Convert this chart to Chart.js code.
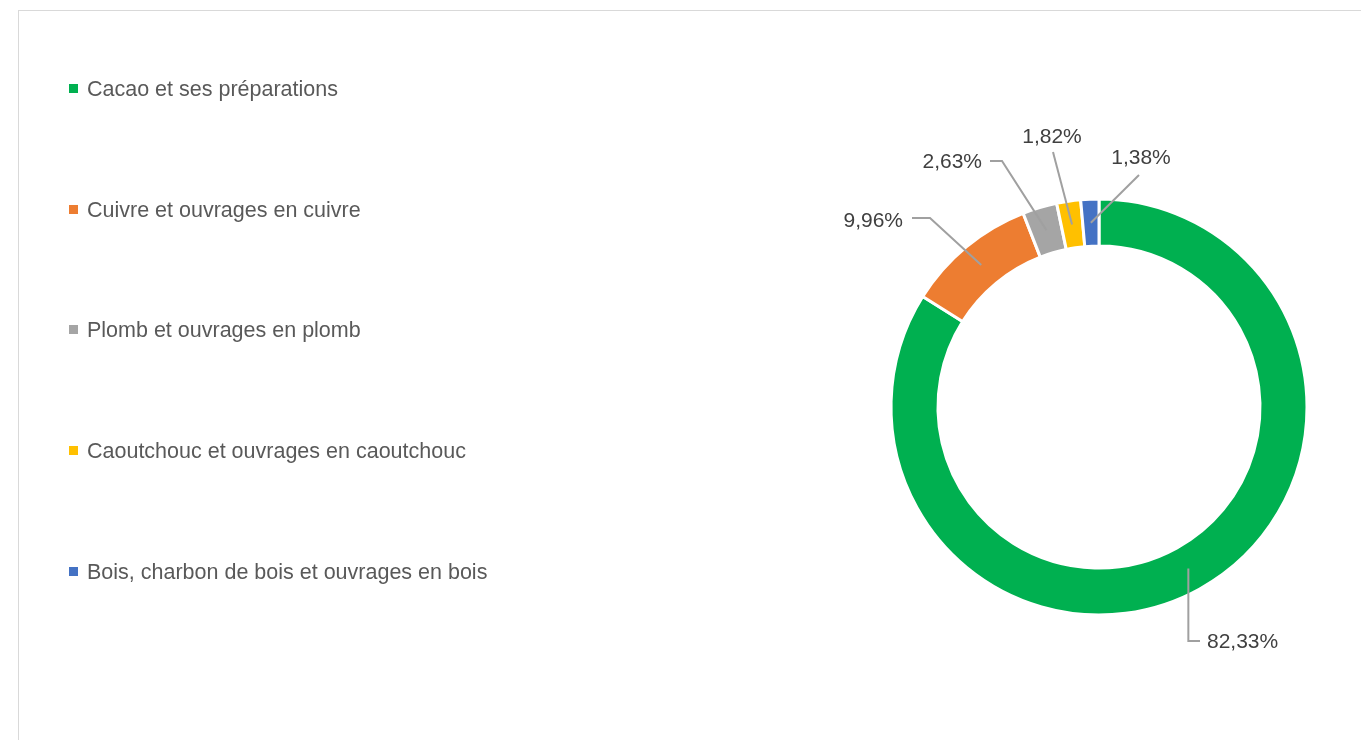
<!DOCTYPE html>
<html lang="fr">
<head>
<meta charset="utf-8">
<script src="https://cdn.jsdelivr.net/npm/chart.js@4/dist/chart.umd.min.js"></script>
<style>
    body { margin: 0; background: #fff; font-family: "Liberation Sans", Arial, sans-serif; }
    #frame { position: absolute; left: 18px; top: 10px; width: 1360px; height: 740px; border: 1px solid #d9d9d9; box-sizing: border-box; }
    #wrap { position: absolute; left: 0; top: 0; width: 1361px; height: 740px; }
    #legend { position: absolute; left: 69px; top: 0; }
    .item { position: absolute; left: 0; white-space: nowrap; font-size: 21.5px; color: #595959; line-height: 24px; }
    .item span.box { display: inline-block; width: 9px; height: 9px; margin-right: 9px; vertical-align: 3px; }
</style>
</head>
<body>
<div id="frame"></div>
<div id="wrap"><canvas id="donut" width="1361" height="740"></canvas></div>
<div id="legend"></div>
<script>
document.addEventListener('DOMContentLoaded', function() {

    const categories = [
        'Cacao et ses préparations',
        'Cuivre et ouvrages en cuivre',
        'Plomb et ouvrages en plomb',
        'Caoutchouc et ouvrages en caoutchouc',
        'Bois, charbon de bois et ouvrages en bois'
    ];
    const shares = [82.33, 9.96, 2.63, 1.82, 1.38];
    const colors = ['#00B050', '#ED7D31', '#A5A5A5', '#FFC000', '#4472C4'];

    // where Excel put each label and the bend of its leader line
    const labelSpots = [
        { tx: 1207, ty: 642, align: 'left', path: [[1200, 641], ['x', 641]] },
        { tx: 903, ty: 221, align: 'right', path: [[912, 218], [930, 218]] },
        { tx: 982, ty: 162, align: 'right', path: [[990, 161], [1002, 161]] },
        { tx: 1052, ty: 137, align: 'center', path: [[1053, 152]] },
        { tx: 1141, ty: 158, align: 'center', path: [[1139, 175]] }
    ];

    function buildLegend() {
        const legend = document.getElementById('legend');
        categories.forEach((name, i) => {
            const div = document.createElement('div');
            div.className = 'item';
            div.style.top = (77 + i * 120.7) + 'px';
            div.innerHTML = '<span class="box" style="background:' + colors[i] + '"></span>' + name;
            legend.appendChild(div);
        });
    }

    const leaderLabels = {
        id: 'leaderLabels',
        afterDatasetsDraw(chart) {
            const ctx = chart.ctx;
            const meta = chart.getDatasetMeta(0);
            ctx.save();
            meta.data.forEach((arc, i) => {
                const p = arc.getProps(['x', 'y', 'startAngle', 'endAngle', 'innerRadius', 'outerRadius'], true);
                const mid = (p.startAngle + p.endAngle) / 2;
                const r = (p.innerRadius + p.outerRadius) / 2;
                const px = p.x + Math.cos(mid) * r;
                const py = p.y + Math.sin(mid) * r;
                const spot = labelSpots[i];

                ctx.strokeStyle = '#A0A0A0';
                ctx.lineWidth = 2;
                ctx.beginPath();
                spot.path.forEach((pt, k) => {
                    const x = pt[0] === 'x' ? px : pt[0];
                    if (k === 0) ctx.moveTo(x, pt[1]); else ctx.lineTo(x, pt[1]);
                });
                ctx.lineTo(px, py);
                ctx.stroke();

                ctx.fillStyle = '#404040';
                ctx.font = '21px "Liberation Sans", Arial, sans-serif';
                ctx.textAlign = spot.align;
                ctx.textBaseline = 'middle';
                ctx.fillText(shares[i].toFixed(2).replace('.', ',') + '%', spot.tx, spot.ty);
            });
            ctx.restore();
        }
    };

    buildLegend();

    new Chart(document.getElementById('donut'), {
        type: 'doughnut',
        data: {
            labels: categories,
            datasets: [{
                data: shares,
                backgroundColor: colors,
                borderColor: '#fff',
                borderWidth: 3,
                radius: 208
            }]
        },
        options: {
            responsive: false,
            animation: false,
            cutout: '77.4%',
            layout: { padding: { left: 837, right: 0, top: 74, bottom: 0 } },
            plugins: {
                legend: { display: false },
                tooltip: { enabled: false }
            }
        },
        plugins: [leaderLabels]
    });
});
</script>
</body>
</html>
